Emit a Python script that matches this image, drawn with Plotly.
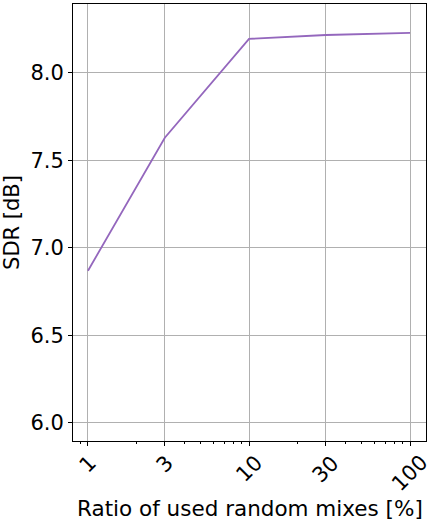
import math
import plotly.graph_objects as go

# mix ratio [%] vs SDR [dB]
ratios = [1, 3, 10, 30, 100]
sdr = [6.87, 7.63, 8.195, 8.217, 8.229]
tick_labels = ["1", "3", "10", "30", "100"]
y_ticks = [6.0, 6.5, 7.0, 7.5, 8.0]

FS = 21

fig = go.Figure()
fig.add_trace(go.Scatter(x=ratios, y=sdr, mode="lines",
                         line=dict(color="#9467bd", width=1.8)))

axis_common = dict(showline=True, linecolor="black", linewidth=1, mirror=True,
                   showgrid=True, gridcolor="#b0b0b0", gridwidth=1,
                   ticks="outside", ticklen=4, tickcolor="black",
                   tickfont=dict(size=FS, color="black"), zeroline=False,
                   automargin=False)

fig.update_xaxes(type="log", range=[-0.093, 2.099],
                 tickvals=ratios, showticklabels=False,
                 minor=dict(ticks="outside", ticklen=2, dtick="D1", showgrid=False,
                            tickcolor="black"),
                 **axis_common)
fig.update_yaxes(range=[5.897, 8.394], tickvals=y_ticks, tickformat=".1f",
                 title=dict(text="SDR [dB]", font=dict(size=FS, color="black")),
                 **axis_common)

# rotated x tick labels, centred on their ticks like matplotlib
for r, lab in zip(ratios, tick_labels):
    fig.add_annotation(x=math.log10(r), y=0, xref="x", yref="paper",
                       text=lab, textangle=-45, showarrow=False,
                       xanchor="center", yanchor="top", yshift=-7,
                       font=dict(size=FS, color="black"))

fig.add_annotation(x=0.5, y=0, xref="paper", yref="paper",
                   text="Ratio of used random mixes [%]", showarrow=False,
                   xanchor="center", yanchor="top", yshift=-53,
                   font=dict(size=21.5, color="black"))

fig.update_layout(width=436, height=523, margin=dict(l=73, r=10, t=4, b=82),
                  plot_bgcolor="white", paper_bgcolor="white", showlegend=False,
                  font=dict(family="DejaVu Sans"))

# drop the default body margin so the figure sits at the window corner
fig.write_html("out.html", config={"displayModeBar": False},
               post_script="document.body.style.margin='0';")
